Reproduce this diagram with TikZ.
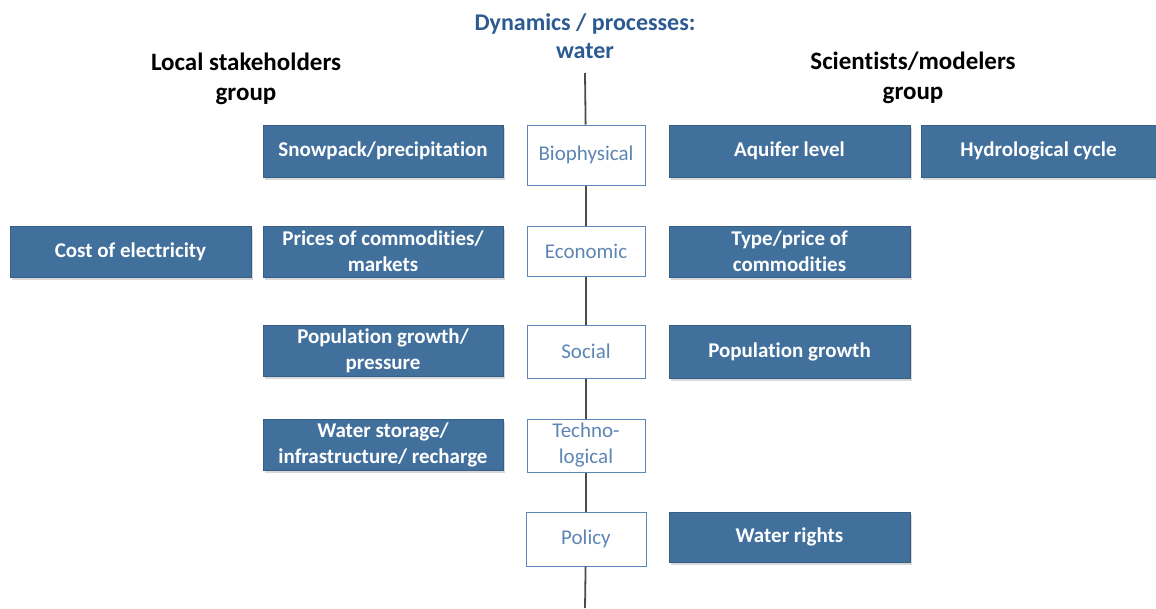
\documentclass[tikz,border=0pt]{standalone}
\usepackage{fontspec}
\setmainfont[Ligatures=NoCommon]{Carlito}
\usetikzlibrary{shadows}
\definecolor{boxblue}{HTML}{41709C}
\definecolor{cborder}{HTML}{5B87B8}
\definecolor{ctext}{HTML}{5E86B4}
\definecolor{ttl}{HTML}{2E5A92}
\begin{document}
\begin{tikzpicture}[x=1pt,y=-1pt,
  bluebox/.style={fill=boxblue, draw=boxblue!85!black, line width=0.6pt, text=white,
    font=\fontsize{21}{26}\selectfont\bfseries, align=center, inner sep=0pt,
    drop shadow={shadow xshift=2pt, shadow yshift=-3pt, fill=black!15, opacity=1}},
  catbox/.style={fill=white, draw=cborder, line width=1pt, text=ctext,
    font=\fontsize{21}{26}\selectfont, align=center, inner sep=0pt,
    minimum width=118pt},
  ttlnode/.style={font=\fontsize{25}{30}\selectfont\bfseries, align=center, inner sep=0pt},
  axis/.style={draw=black!70, line width=1.8pt}]
\useasboundingbox (0,0) rectangle (1156,608);
% titles
\node[ttlnode, text=ttl, font=\fontsize{24}{28}\selectfont\bfseries] (dyn) at (585,36) {Dynamics / processes:\\water};
\node[ttlnode] (loc) at (246,79) {Local stakeholders\\group};
\node[ttlnode] (sci) at (913,78) {Scientists/modelers\\group};
% axis ends
\coordinate (top) at (585,73);
\coordinate (bot) at (585,608);
% center boxes
\node[catbox, minimum height=60pt] (bio) at (586,155) {Biophysical};
\node[catbox, minimum height=50pt] (eco) at (586,251) {Economic};
\node[catbox, minimum height=53pt] (soc) at (586,351.5) {Social};
\node[catbox, minimum height=53pt] (tec) at (586,445.5) {Techno-\\logical};
\node[catbox, minimum height=54pt, minimum width=120pt] (pol) at (586,539) {Policy};
% axis
\draw[axis] (top) -- (bio);
\draw[axis] (bio) -- (eco);
\draw[axis] (eco) -- (soc);
\draw[axis] (soc) -- (tec);
\draw[axis] (tec) -- (pol);
\draw[axis] (pol) -- (bot);
% left column
\node[bluebox, minimum width=240pt, minimum height=52pt] (snow) at (383,151) {Snowpack/precipitation};
\node[bluebox, minimum width=240pt, minimum height=51pt] (pri) at (383,251.5) {Prices of commodities/\\markets};
\node[bluebox, minimum width=240pt, minimum height=51pt] (pop) at (383,350.5) {Population growth/\\pressure};
\node[bluebox, minimum width=240pt, minimum height=51pt] (wst) at (383,444.5) {Water storage/\\infrastructure/ recharge};
\node[bluebox, minimum width=241pt, minimum height=51pt] (cost) at (130.5,251.5) {Cost of electricity};
% right column
\node[bluebox, minimum width=241pt, minimum height=52pt] (aq) at (789.5,151) {Aquifer level};
\node[bluebox, minimum width=241pt, minimum height=51pt] (typ) at (789.5,251.5) {Type/price of\\commodities};
\node[bluebox, minimum width=241pt, minimum height=53pt] (popg) at (789.5,351.5) {Population growth};
\node[bluebox, minimum width=241pt, minimum height=50pt] (wr) at (789.5,537) {Water rights};
\node[bluebox, minimum width=235pt, minimum height=52pt] (hyd) at (1038.5,151) {Hydrological cycle};
\end{tikzpicture}
\end{document}
